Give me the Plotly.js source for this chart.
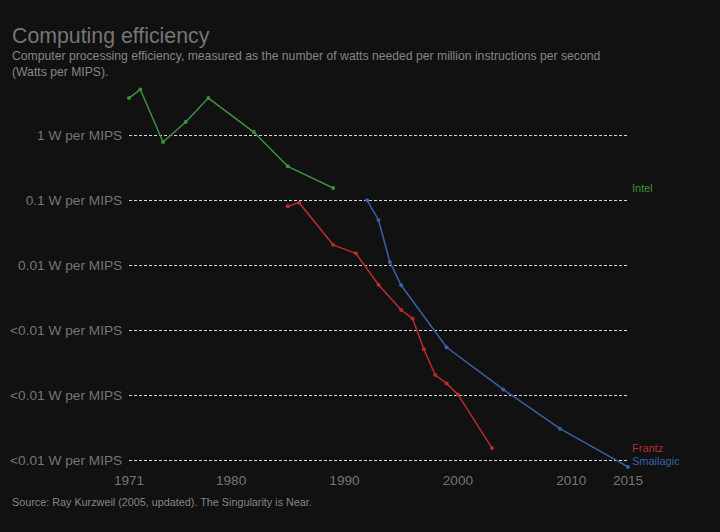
<!DOCTYPE html>
<html>
<head>
<meta charset="utf-8">
<script src="https://cdn.plot.ly/plotly-3.0.1.min.js"></script>
<style>
html,body{margin:0;padding:0;background:#111111;}
#chart{width:720px;height:532px;}
</style>
</head>
<body>
<div id="chart"></div>
<script>
var intelYears = [1971, 1972, 1974, 1976, 1978, 1982, 1985, 1989];
var intelValues = [3.7, 5.0, 0.78, 1.58, 3.7, 1.11, 0.33, 0.153];

var frantzYears = [1985, 1986, 1989, 1991, 1993, 1995, 1996, 1997, 1998, 1999, 2000, 2003];
var frantzValues = [0.08, 0.091, 0.0205, 0.0152, 0.005, 0.00204, 0.00151, 0.00051, 0.000204, 0.000152, 0.000103, 0.0000155];

var smailagicYears = [1992, 1993, 1994, 1995, 1999, 2004, 2009, 2015];
var smailagicValues = [0.099, 0.0494, 0.0112, 0.0049, 0.000546, 0.000123, 0.0000306, 0.0000079];

var yTickVals = [1, 0.1, 0.01, 0.001, 0.0001, 0.00001];
var yTickText = ["1 W per MIPS", "0.1 W per MIPS", "0.01 W per MIPS", "<0.01 W per MIPS", "<0.01 W per MIPS", "<0.01 W per MIPS"];
var xTickVals = [1971, 1980, 1990, 2000, 2010, 2015];

var seriesNames = ["Intel", "Frantz", "Smailagic"];
var seriesColors = ["#3f8f3f", "#b82c2c", "#3a60a6"];
var seriesX = [intelYears, frantzYears, smailagicYears];
var seriesY = [intelValues, frantzValues, smailagicValues];
var labelShift = [0, 0, 6];

var FONT = "Liberation Sans, Arial, Helvetica, sans-serif";

var W = 720, H = 532;
var M = {l: 129, r: 92, t: 85, b: 62};
var plotW = W - M.l - M.r, plotH = H - M.t - M.b;
function px2paperX(px) { return (px - M.l) / plotW; }
function px2paperY(py) { return (H - M.b - py) / plotH; }

var traces = seriesNames.map(function (n, i) {
  return {
    type: "scatter",
    mode: "lines+markers",
    name: n,
    x: seriesX[i],
    y: seriesY[i],
    cliponaxis: false,
    line: {color: seriesColors[i], width: 1.5},
    marker: {color: seriesColors[i], size: 4},
    hoverinfo: "x+y+name"
  };
});

var annotations = seriesNames.map(function (n, i) {
  var ys = seriesY[i];
  return {
    xref: "paper", yref: "y",
    x: 1, y: Math.log10(ys[ys.length - 1]),
    xanchor: "left", yanchor: "middle",
    xshift: 2, yshift: labelShift[i],
    text: n, showarrow: false,
    font: {family: FONT, size: 11, color: seriesColors[i]}
  };
});

annotations.push({
  xref: "paper", yref: "paper",
  x: px2paperX(10), y: px2paperY(47),
  xanchor: "left", yanchor: "top", align: "left",
  text: "Computer processing efficiency, measured as the number of watts needed per million instructions per second<br>(Watts per MIPS).",
  showarrow: false,
  font: {family: FONT, size: 12.2, color: "#858585"}
});
annotations.push({
  xref: "paper", yref: "paper",
  x: px2paperX(10), y: px2paperY(494),
  xanchor: "left", yanchor: "top", align: "left",
  text: "Source: Ray Kurzweil (2005, updated). The Singularity is Near.",
  showarrow: false,
  font: {family: FONT, size: 10.8, color: "#858585"}
});

var layout = {
  width: W, height: H,
  paper_bgcolor: "#111111",
  plot_bgcolor: "#111111",
  showlegend: false,
  margin: M,
  title: {
    text: "Computing efficiency",
    xref: "container", yref: "container",
    x: 12 / W, xanchor: "left",
    y: 1 - 28 / H, yanchor: "top",
    font: {family: FONT, size: 21.3, color: "#757575"}
  },
  xaxis: {
    range: [1971, 2015],
    tickvals: xTickVals,
    ticktext: xTickVals.map(String),
    showgrid: false, zeroline: false, showline: false,
    ticks: "", ticklen: 0,
    tickfont: {family: FONT, size: 13.6, color: "#757575"}
  },
  yaxis: {
    type: "log",
    range: [-5.149, 0.7685],
    tickvals: yTickVals,
    ticktext: yTickText,
    showgrid: true,
    gridcolor: "#d8d8d8",
    gridwidth: 1,
    griddash: "3px,2px",
    zeroline: false, showline: false,
    ticks: "outside", ticklen: 3, tickcolor: "rgba(0,0,0,0)",
    tickfont: {family: FONT, size: 13.7, color: "#757575"}
  },
  annotations: annotations
};

Plotly.newPlot("chart", traces, layout, {displayModeBar: false, staticPlot: true});
</script>
</body>
</html>
